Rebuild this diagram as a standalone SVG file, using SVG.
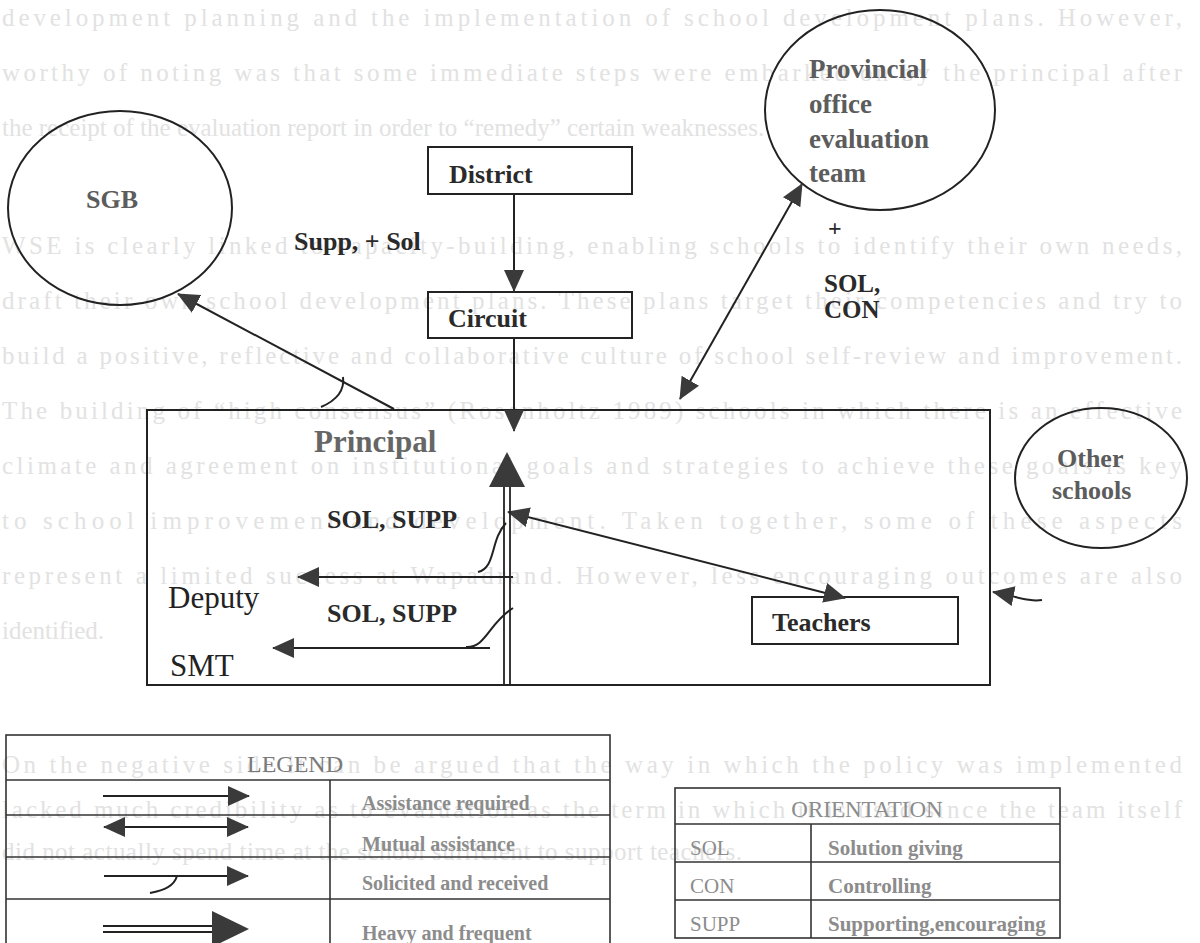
<svg xmlns="http://www.w3.org/2000/svg" width="1200" height="943" viewBox="0 0 1200 943">
<style>
.bg{font-family:"Liberation Serif",serif;font-size:25px;fill:#e2e2e2}
.lb{font-family:"Liberation Serif",serif;font-weight:bold;font-size:26px;fill:#2a2a2a}
.gr{font-family:"Liberation Serif",serif;font-weight:bold;font-size:26px;fill:#5c5c5c}
.rg{font-family:"Liberation Serif",serif;font-size:31px;fill:#222}
.lg{font-family:"Liberation Serif",serif;font-size:21px;fill:#8c8c8c}
.lgb{font-family:"Liberation Serif",serif;font-weight:bold;font-size:20px;fill:#8c8c8c}
.box{fill:none;stroke:#222;stroke-width:2}
.ln{fill:none;stroke:#222;stroke-width:2}
.tb{fill:none;stroke:#333;stroke-width:1.6}
</style>
<defs>
<marker id="ah" viewBox="0 0 22 20" refX="21" refY="10" markerWidth="22" markerHeight="20" markerUnits="userSpaceOnUse" orient="auto-start-reverse"><path d="M0,0 L22,10 L0,20 Z" fill="#3a3a3a"/></marker>
</defs>
<rect width="1200" height="943" fill="#fff"/>
<g id="background-text">
<text class="bg" x="2" y="26" textLength="1180" lengthAdjust="spacing">development planning and the implementation of school development plans. However,</text>
<text class="bg" x="2" y="81" textLength="1180" lengthAdjust="spacing">worthy of noting was that some immediate steps were embarked on by the principal after</text>
<text class="bg" x="2" y="136">the receipt of the evaluation report in order to “remedy” certain weaknesses.</text>
<text class="bg" x="2" y="254" textLength="1180" lengthAdjust="spacing">WSE is clearly linked to capacity-building, enabling schools to identify their own needs,</text>
<text class="bg" x="2" y="309" textLength="1180" lengthAdjust="spacing">draft their own school development plans. These plans target their competencies and try to</text>
<text class="bg" x="2" y="364" textLength="1180" lengthAdjust="spacing">build a positive, reflective and collaborative culture of school self-review and improvement.</text>
<text class="bg" x="2" y="419" textLength="1180" lengthAdjust="spacing">The building of “high consensus” (Rosenholtz 1989) schools in which there is an effective</text>
<text class="bg" x="2" y="474" textLength="1180" lengthAdjust="spacing">climate and agreement on institutional goals and strategies to achieve these goals is key</text>
<text class="bg" x="2" y="529" textLength="1180" lengthAdjust="spacing">to school improvement and development. Taken together, some of these aspects</text>
<text class="bg" x="2" y="584" textLength="1180" lengthAdjust="spacing">represent a limited success at Wapadrand. However, less encouraging outcomes are also</text>
<text class="bg" x="2" y="639">identified.</text>
<text class="bg" x="2" y="773" textLength="1180" lengthAdjust="spacing">On the negative side it can be argued that the way in which the policy was implemented</text>
<text class="bg" x="2" y="818" textLength="1180" lengthAdjust="spacing">lacked much credibility as to evaluation as the term in which it is used since the team itself</text>
<text class="bg" x="2" y="860" textLength="740" lengthAdjust="spacing">did not actually spend time at the school sufficient to support teachers.</text>
</g>
<g id="sgb"><ellipse class="box" cx="120" cy="208" rx="112" ry="97"/><text class="gr" x="112" y="208" text-anchor="middle">SGB</text></g>
<g id="provincial"><ellipse class="box" cx="880" cy="110" rx="115" ry="100"/>
<text class="gr" x="809" y="78" style="font-size:27px">Provincial</text><text class="gr" x="809" y="113" style="font-size:27px">office</text><text class="gr" x="809" y="148" style="font-size:27px">evaluation</text><text class="gr" x="809" y="182" style="font-size:27px">team</text></g>
<g id="district"><rect class="box" x="428" y="147" width="204" height="47"/><text class="lb" x="449" y="183">District</text></g>
<g id="circuit"><rect class="box" x="428" y="292" width="204" height="46"/><text class="lb" x="448" y="327">Circuit</text></g>
<g id="principal"><rect class="box" x="147" y="410" width="843" height="275"/><text class="gr" x="314" y="452" style="font-size:31px;fill:#666">Principal</text></g>
<g id="deputy"><text class="rg" x="168" y="608">Deputy</text></g>
<g id="smt"><text class="rg" x="170" y="676">SMT</text></g>
<g id="teachers"><rect class="box" x="752" y="597" width="206" height="47"/><text class="lb" x="772" y="631">Teachers</text></g>
<g id="other-schools"><ellipse class="box" cx="1101" cy="478" rx="86" ry="70"/><text class="gr" x="1057" y="467">Other</text><text class="gr" x="1052" y="499">schools</text></g>
<g id="connectors">
<line class="ln" x1="514" y1="194" x2="514" y2="291" marker-end="url(#ah)"/>
<line class="ln" x1="514" y1="338" x2="514" y2="431" marker-end="url(#ah)"/>
<line class="ln" x1="802" y1="184" x2="680" y2="399" marker-start="url(#ah)" marker-end="url(#ah)"/>
<line class="ln" x1="394" y1="409" x2="178" y2="294" marker-end="url(#ah)"/>
<path class="ln" d="M321,407 C335,401 345,392 343,377"/>
<line class="ln" x1="845" y1="598" x2="508" y2="512" marker-start="url(#ah)" marker-end="url(#ah)"/>
<line class="ln" x1="513" y1="577" x2="298" y2="577" marker-end="url(#ah)"/>
<path class="ln" d="M478,572 C496,568 490,540 506,523"/>
<line class="ln" x1="490" y1="648" x2="273" y2="648" marker-end="url(#ah)"/>
<path class="ln" d="M466,647 C486,648 488,624 513,608"/>
<path class="ln" d="M1042,600 C1030,602 1018,597 993,592" marker-end="url(#ah)"/>
<line class="ln" x1="504" y1="685" x2="504" y2="486" style="stroke-width:1.8"/>
<line class="ln" x1="510" y1="685" x2="510" y2="486" style="stroke-width:1.8"/>
<polygon points="489,487 525,487 507,452" fill="#3a3a3a"/>
</g>
<g id="connector-labels">
<text class="lb" x="294" y="250">Supp, + Sol</text>
<text class="lb" x="828" y="236" style="font-size:24px">+</text>
<text class="lb" x="824" y="292" style="font-size:25px">SOL,</text>
<text class="lb" x="824" y="318" style="font-size:25px">CON</text>
<text class="lb" x="327" y="528">SOL, SUPP</text>
<text class="lb" x="327" y="622">SOL, SUPP</text>
</g>
<g id="legend">
<rect class="tb" x="6" y="735" width="604" height="215"/>
<line class="tb" x1="6" y1="780" x2="610" y2="780"/>
<line class="tb" x1="6" y1="815" x2="610" y2="815"/>
<line class="tb" x1="6" y1="857" x2="610" y2="857"/>
<line class="tb" x1="6" y1="899" x2="610" y2="899"/>
<line class="tb" x1="330" y1="780" x2="330" y2="943"/>
<text class="lg" x="295" y="772" text-anchor="middle" style="font-size:24px;fill:#7a7a7a">LEGEND</text>
<line class="ln" x1="103" y1="796" x2="249" y2="796" marker-end="url(#ah)"/>
<line class="ln" x1="104" y1="827" x2="248" y2="827" marker-start="url(#ah)" marker-end="url(#ah)"/>
<line class="ln" x1="104" y1="876" x2="248" y2="876" marker-end="url(#ah)"/>
<path class="ln" d="M150,893 C165,890 174,886 177,876"/>
<line class="ln" x1="103" y1="926" x2="214" y2="926" style="stroke-width:1.8"/>
<line class="ln" x1="103" y1="932" x2="214" y2="932" style="stroke-width:1.8"/>
<polygon points="212,911 249,929 212,947" fill="#3a3a3a"/>
<text class="lgb" x="362" y="810">Assistance required</text>
<text class="lgb" x="362" y="851">Mutual assistance</text>
<text class="lgb" x="362" y="890">Solicited and received</text>
<text class="lgb" x="362" y="940">Heavy and frequent</text>
</g>
<g id="orientation">
<rect class="tb" x="675" y="788" width="385" height="150"/>
<line class="tb" x1="675" y1="824" x2="1060" y2="824"/>
<line class="tb" x1="675" y1="862" x2="1060" y2="862"/>
<line class="tb" x1="675" y1="900" x2="1060" y2="900"/>
<line class="tb" x1="811" y1="824" x2="811" y2="938"/>
<text class="lg" x="867" y="817" text-anchor="middle" style="font-size:23px">ORIENTATION</text>
<text class="lg" x="690" y="855">SOL</text><text class="lgb" x="828" y="855" style="font-size:21px">Solution giving</text>
<text class="lg" x="690" y="893">CON</text><text class="lgb" x="828" y="893" style="font-size:21px">Controlling</text>
<text class="lg" x="690" y="931">SUPP</text><text class="lgb" x="828" y="931" style="font-size:21px">Supporting,encouraging</text>
</g>
</svg>
